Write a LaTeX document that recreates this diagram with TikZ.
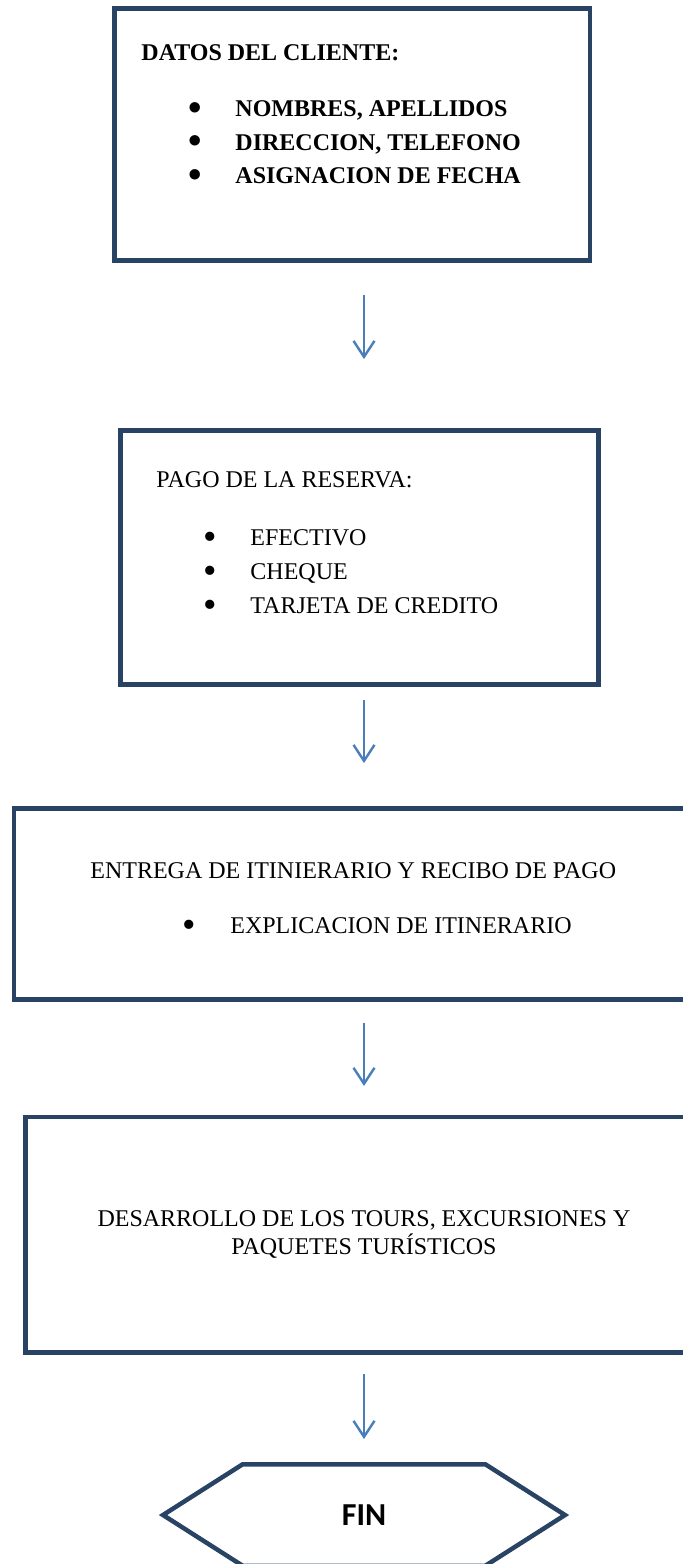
\documentclass[tikz,border=0pt]{standalone}
\usepackage{fontspec}
\setmainfont{Liberation Serif}
\newfontfamily\finfont{Carlito}
\usetikzlibrary{positioning}
\usetikzlibrary{arrows.meta}
\usetikzlibrary{shapes.symbols}
\definecolor{azulborde}{RGB}{41,67,101}
\definecolor{azulflecha}{RGB}{74,126,187}
\newcommand\vineta{\makebox[4.2pt]{\smash{\raisebox{-1.8pt}{\scalebox{1.6}{\textbullet}}}}}
\tikzset{caja/.style={ % Sets the properties for each box
      rectangle,
      draw=azulborde,
      line width=2.25pt,
      inner sep=0pt},
      texto/.style={ % Text placed inside the boxes
      inner sep=0pt,
      align=left,
      font=\fontsize{12}{17}\selectfont},
      flecha/.style={ % Thin blue connector with open head
      draw=azulflecha,
      line width=1.2pt,
      -{Straight Barb[length=8pt,width=10.5pt]}}}

\begin{document}
\begin{tikzpicture}
      \useasboundingbox (0,0) rectangle (341.5pt,-782pt);
      \node[caja, minimum width=237.75pt, minimum height=126pt] (datos) at (176.125pt,-67.25pt) {};
      \node[caja, minimum width=239pt, minimum height=127pt, below=82.75pt of datos, xshift=3.625pt] (pago) {};
      \node[caja, minimum width=345pt, minimum height=95.5pt, below=59.75pt of pago, xshift=-0.25pt] (entrega) {};
      \node[caja, minimum width=339.25pt, minimum height=117.75pt, below=56.5pt of entrega, xshift=2.875pt] (desarrollo) {};
      \node[signal, signal to=west and east, signal pointer angle=65, draw=azulborde, line width=2.25pt,
            minimum width=201pt, minimum height=50.75pt, font=\finfont\bfseries\fontsize{16}{19}\selectfont,
            below=53.625pt of desarrollo, xshift=-0.375pt] (fin) {FIN};
      \node[texto, font=\bfseries\fontsize{12}{16.75}\selectfont, below right=19pt and 14.4pt of datos.north west] (datostxt)
            {DATOS DEL CLIENTE:\\[11.25pt]
            \hspace*{25pt}\makebox[22pt][l]{\vineta}NOMBRES, APELLIDOS\\
            \hspace*{25pt}\makebox[22pt][l]{\vineta}DIRECCION, TELEFONO\\
            \hspace*{25pt}\makebox[22pt][l]{\vineta}ASIGNACION DE FECHA};
      \node[texto, below right=21.5pt and 18.9pt of pago.north west] (pagotxt)
            {PAGO DE LA RESERVA:\\[12pt]
            \hspace*{25pt}\makebox[22pt][l]{\vineta}EFECTIVO\\
            \hspace*{25pt}\makebox[22pt][l]{\vineta}CHEQUE\\
            \hspace*{25pt}\makebox[22pt][l]{\vineta}TARJETA DE CREDITO};
      \node[texto, font=\fontsize{12}{27.5}\selectfont, below right=28pt and 39.1pt of entrega.north west] (entregatxt)
            {ENTREGA DE ITINIERARIO Y RECIBO DE PAGO\\
            \hspace*{47.4pt}\makebox[22.6pt][l]{\vineta}EXPLICACION DE ITINERARIO};
      \node[texto, align=center, font=\fontsize{12}{13.8}\selectfont, below=47.7pt of desarrollo.north, xshift=-0.375pt] (desarrollotxt)
            {DESARROLLO DE LOS TOURS, EXCURSIONES Y\\PAQUETES TURÍSTICOS};
      \draw[flecha, shorten <=16.1pt, shorten >=34.6pt] (datos.south -| fin.north) -- (pago.north -| fin.north);
      \draw[flecha, shorten <=6.6pt, shorten >=21.6pt] (pago.south -| fin.north) -- (entrega.north -| fin.north);
      \draw[flecha, shorten <=10.4pt, shorten >=14.4pt] (entrega.south -| fin.north) -- (desarrollo.north -| fin.north);
      \draw[flecha, shorten <=9.6pt, shorten >=11.5pt] (desarrollo.south -| fin.north) -- (fin.north);
\end{tikzpicture}
\end{document}
